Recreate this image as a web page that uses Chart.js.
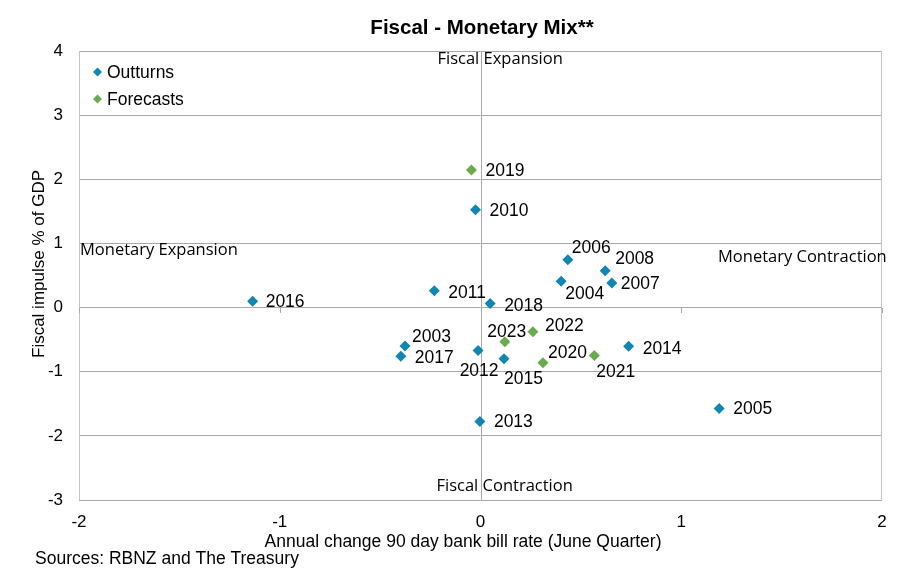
<!DOCTYPE html>
<html>
<head>
<meta charset="utf-8">
<script src="https://cdn.jsdelivr.net/npm/chart.js@4.4.1/dist/chart.umd.min.js"></script>
<style>
html,body{margin:0;padding:0;background:#fff;}
#wrap{width:912px;height:571px;position:relative;}
</style>
</head>
<body>
<div id="wrap"><canvas id="c" width="912" height="571"></canvas></div>
<script>
// ---- Data ----
const outturnYears = ['2003','2004','2005','2006','2007','2008','2010','2011','2012','2013','2014','2015','2016','2017','2018'];
const outturnX = [-0.376, 0.402, 1.189, 0.435, 0.654, 0.621, -0.025, -0.230, -0.012, -0.003, 0.738, 0.117, -1.135, -0.397, 0.048];
const outturnY = [-0.600, 0.410, -1.575, 0.746, 0.384, 0.575, 1.524, 0.264, -0.669, -1.778, -0.602, -0.798, 0.098, -0.757, 0.062];

const forecastYears = ['2019','2020','2021','2022','2023'];
const forecastX = [-0.045, 0.311, 0.567, 0.261, 0.121];
const forecastY = [2.146, -0.860, -0.747, -0.378, -0.533];

const xTicks = [-2, -1, 0, 1, 2];
const yTicks = [-3, -2, -1, 0, 1, 2, 3, 4];

const seriesNames = ['Outturns', 'Forecasts'];
const titleText = 'Fiscal - Monetary Mix**';
const xTitle = 'Annual change 90 day bank bill rate (June Quarter)';
const yTitle = 'Fiscal impulse % of GDP';
const sourceText = 'Sources: RBNZ and The Treasury';
const quadrantText = {top: 'Fiscal Expansion', bottom: 'Fiscal Contraction', left: 'Monetary Expansion', right: 'Monetary Contraction'};

// ---- Styles (label placement relative to each marker) ----
const labelStyle = {
  '2019':{dx:14,dy:1,a:'left'}, '2010':{dx:14,dy:1,a:'left'}, '2006':{dx:4,dy:-12,a:'left'},
  '2008':{dx:10,dy:-12,a:'left'}, '2007':{dx:9,dy:1,a:'left'}, '2004':{dx:4,dy:13,a:'left'},
  '2011':{dx:14,dy:3,a:'left'}, '2018':{dx:14,dy:3,a:'left'}, '2003':{dx:7,dy:-9,a:'left'},
  '2017':{dx:14,dy:2,a:'left'}, '2012':{dx:1,dy:21,a:'center'}, '2023':{dx:2,dy:-10,a:'center'},
  '2022':{dx:12,dy:-6,a:'left'}, '2015':{dx:0,dy:20,a:'left'}, '2020':{dx:5,dy:-10,a:'left'},
  '2021':{dx:2,dy:17,a:'left'}, '2014':{dx:14,dy:3,a:'left'}, '2013':{dx:14,dy:1,a:'left'},
  '2005':{dx:14,dy:1,a:'left'}, '2016':{dx:13,dy:1,a:'left'}
};
const BLUE = '#0f87b2';
const GREEN = '#6aab4e';
const GRID = '#a9a9a9';
const ARIAL = '"Liberation Sans", Arial, sans-serif';
const CAL = '"Open Sans", "Noto Sans", sans-serif';

const toPts = (xs, ys) => xs.map((x, i) => ({x: x, y: ys[i]}));

const overlay = {
  id: 'overlay',
  beforeDatasetsDraw(chart) {
    const {ctx, chartArea: ca, scales: {x, y}} = chart;
    ctx.save();
    ctx.strokeStyle = '#c4c4c4';
    ctx.lineWidth = 1;
    ctx.beginPath();
    ctx.moveTo(Math.round(ca.left) + 0.5, ca.top); ctx.lineTo(Math.round(ca.left) + 0.5, ca.bottom);
    ctx.moveTo(Math.round(ca.right) - 0.5, ca.top); ctx.lineTo(Math.round(ca.right) - 0.5, ca.bottom);
    ctx.stroke();
    ctx.strokeStyle = GRID;
    const x0 = Math.round(x.getPixelForValue(0)) + 0.5;
    ctx.beginPath(); ctx.moveTo(x0, ca.top); ctx.lineTo(x0, ca.bottom); ctx.stroke();
    const y0 = Math.round(y.getPixelForValue(0));
    ctx.beginPath();
    xTicks.forEach(v => {
      const px = Math.round(x.getPixelForValue(v)) + 0.5;
      ctx.moveTo(px, y0); ctx.lineTo(px, y0 + 5);
    });
    ctx.stroke();
    ctx.fillStyle = '#000';
    ctx.font = '16.5px ' + CAL;
    ctx.textBaseline = 'middle';
    ctx.textAlign = 'left';
    ctx.fillText(quadrantText.top, x.getPixelForValue(0) - 43, ca.top + 8);
    ctx.fillText(quadrantText.bottom, x.getPixelForValue(0) - 44, ca.bottom - 14);
    ctx.fillText(quadrantText.left, ca.left + 1, y.getPixelForValue(0) - 57);
    ctx.fillText(quadrantText.right, ca.right - 164, y.getPixelForValue(0) - 50);
    ctx.restore();
  },
  afterDatasetsDraw(chart) {
    const {ctx} = chart;
    ctx.save();
    ctx.fillStyle = '#000';
    ctx.font = '17.5px ' + ARIAL;
    ctx.textBaseline = 'middle';
    chart.data.datasets.forEach((ds, di) => {
      const meta = chart.getDatasetMeta(di);
      const yrs = di === 0 ? outturnYears : forecastYears;
      meta.data.forEach((el, i) => {
        const s = labelStyle[yrs[i]];
        ctx.textAlign = s.a;
        ctx.fillText(yrs[i], el.x + s.dx, el.y + s.dy);
      });
    });
    const leg = [[seriesNames[0], BLUE, 72], [seriesNames[1], GREEN, 99]];
    leg.forEach(([t, c, yy]) => {
      ctx.fillStyle = c;
      ctx.beginPath();
      ctx.moveTo(97.5, yy - 4.5); ctx.lineTo(102, yy); ctx.lineTo(97.5, yy + 4.5); ctx.lineTo(93, yy);
      ctx.closePath(); ctx.fill();
      ctx.fillStyle = '#000';
      ctx.textAlign = 'left';
      ctx.font = '17.5px ' + ARIAL;
      ctx.fillText(t, 107, yy + 1);
    });
    // chart title
    ctx.font = 'bold 20.5px ' + ARIAL;
    ctx.textAlign = 'center';
    ctx.fillText(titleText, 482, 28);
    // axis titles
    ctx.font = '17.5px ' + ARIAL;
    ctx.fillText(xTitle, 463, 542);
    ctx.save();
    ctx.translate(39, 264);
    ctx.rotate(-Math.PI / 2);
    ctx.font = '17px ' + ARIAL;
    ctx.fillText(yTitle, 0, 0);
    ctx.restore();
    // source
    ctx.font = '17.5px ' + ARIAL;
    ctx.textAlign = 'left';
    ctx.fillText(sourceText, 35, 559);
    ctx.restore();
  }
};

new Chart(document.getElementById('c'), {
  type: 'scatter',
  data: {
    datasets: [
      {label: seriesNames[0], data: toPts(outturnX, outturnY), backgroundColor: BLUE, borderColor: BLUE,
       pointStyle: 'rectRot', pointRadius: 5.5, pointBorderWidth: 0},
      {label: seriesNames[1], data: toPts(forecastX, forecastY), backgroundColor: GREEN, borderColor: GREEN,
       pointStyle: 'rectRot', pointRadius: 5.5, pointBorderWidth: 0}
    ]
  },
  options: {
    responsive: false,
    animation: false,
    layout: {padding: {top: 51, right: 30, left: 0, bottom: 0}},
    plugins: {legend: {display: false}, tooltip: {enabled: false}, title: {display: false}},
    scales: {
      x: {
        type: 'linear', min: -2, max: 2,
        afterBuildTicks: s => { s.ticks = xTicks.map(v => ({value: v})); },
        afterFit: s => { s.height = 71; },
        grid: {display: false, drawTicks: false},
        border: {display: false},
        ticks: {color: '#000', font: {family: ARIAL, size: 17}, padding: 12, maxRotation: 0},
        title: {display: false}
      },
      y: {
        type: 'linear', min: -3, max: 4,
        afterBuildTicks: s => { s.ticks = yTicks.map(v => ({value: v})); },
        afterFit: s => { s.width = 79; },
        grid: {color: GRID, lineWidth: 1, drawTicks: false},
        border: {display: false},
        ticks: {color: '#000', font: {family: ARIAL, size: 17}, padding: 16},
        title: {display: false}
      }
    }
  },
  plugins: [overlay]
});
</script>
</body>
</html>
